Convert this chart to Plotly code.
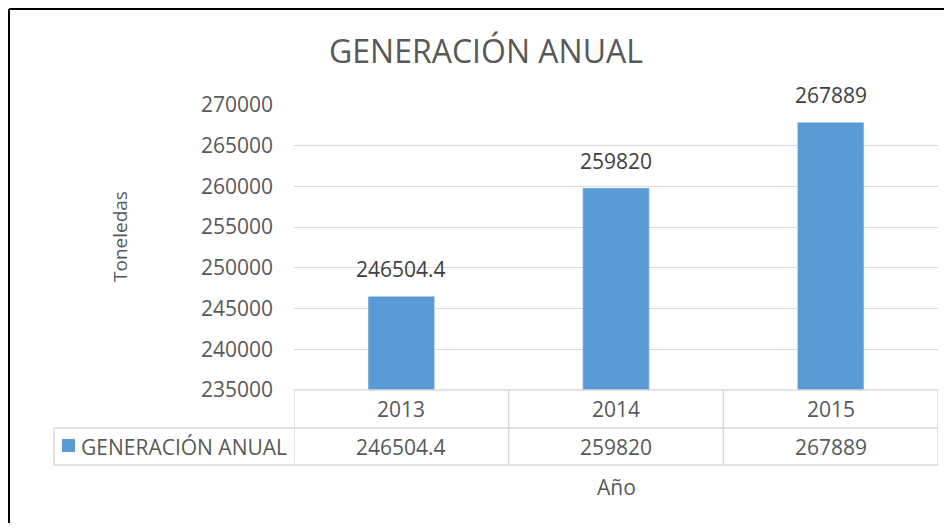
import plotly.graph_objects as go

years = ['2013', '2014', '2015']
generacion = [246504.4, 259820, 267889]
serie = 'GENERACIÓN ANUAL'
y_ticks = [235000, 240000, 245000, 250000, 255000, 260000, 265000, 270000]

bar_color = '#5B9BD5'
grid_color = '#D9D9D9'
text_color = '#595959'
value_color = '#404040'
font_family = 'Open Sans'
fs = 21

# the page body adds an 8px margin on every side, so the figure is kept
# 16px smaller than the window (no scrollbars) and figure px = screen px - 8
OFF = 8
W, H = 952 - 2 * OFF, 531 - 2 * OFF
L, T = 294 - OFF, 105 - OFF
R, B = W - (938 - OFF), H - (390 - OFF)
pw, ph = W - L - R, H - T - B


def px(x):
    # screen x -> paper x
    return (x - OFF - L) / pw


def py(y):
    # screen y -> paper y
    return (H - B - (y - OFF)) / ph


def fmt(v):
    return str(v) if v != int(v) else str(int(v))


fig = go.Figure()
fig.add_trace(go.Bar(
    x=years,
    y=generacion,
    name=serie,
    marker_color=bar_color,
    width=0.31,
    showlegend=False
))

annotations = []
# data labels above bars
for i, v in enumerate(generacion):
    annotations.append(dict(
        x=i, y=v, xref='x', yref='y', text=fmt(v), showarrow=False,
        yanchor='bottom', yshift=11, font=dict(size=fs, color=value_color)
    ))

# data table rows
row1_y = py(409)
row2_y = py(446.5)
for i, (yr, v) in enumerate(zip(years, generacion)):
    annotations.append(dict(
        x=i, y=row1_y, xref='x', yref='paper', text=yr, showarrow=False,
        yanchor='middle', font=dict(size=fs, color=text_color)
    ))
    annotations.append(dict(
        x=i, y=row2_y, xref='x', yref='paper', text=fmt(v), showarrow=False,
        yanchor='middle', font=dict(size=fs, color=text_color)
    ))
annotations.append(dict(
    x=px(79), y=row2_y, xref='paper', yref='paper', text=serie, showarrow=False,
    xanchor='left', yanchor='middle', font=dict(size=fs, color=text_color)
))
annotations.append(dict(
    x=px(616), y=py(487), xref='paper', yref='paper', text='Año', showarrow=False,
    xanchor='center', yanchor='middle', font=dict(size=fs, color=text_color)
))
annotations.append(dict(
    x=px(120), y=py(237), xref='paper', yref='paper', text='Toneledas', showarrow=False,
    textangle=-90, xanchor='center', yanchor='middle', font=dict(size=19, color=text_color)
))

line = dict(color=grid_color, width=1.5)
frame = dict(color='black', width=2)
shapes = [
    # horizontal table lines
    dict(type='line', xref='paper', yref='paper', x0=0, x1=1, y0=py(390), y1=py(390), line=line),
    dict(type='line', xref='paper', yref='paper', x0=px(54), x1=1, y0=py(428), y1=py(428), line=line),
    dict(type='line', xref='paper', yref='paper', x0=px(54), x1=1, y0=py(465), y1=py(465), line=line),
    dict(type='line', xref='paper', yref='paper', x0=px(54), x1=px(54), y0=py(428), y1=py(465), line=line),
    # legend key
    dict(type='rect', xref='paper', yref='paper', x0=px(62), x1=px(75), y0=py(452), y1=py(439),
         line=dict(width=0), fillcolor=bar_color),
    # outer frame: only the top and left edges are inside the window
    dict(type='line', xref='paper', yref='paper', x0=px(9), x1=px(1000), y0=py(9), y1=py(9), line=frame),
    dict(type='line', xref='paper', yref='paper', x0=px(9), x1=px(9), y0=py(9), y1=py(600), line=frame),
]
for k in range(len(years) + 1):
    shapes.append(dict(type='line', xref='x', yref='paper', x0=k - 0.5, x1=k - 0.5,
                       y0=py(390), y1=py(465), line=line))

fig.update_layout(
    width=W,
    height=H,
    margin=dict(l=L, r=R, t=T, b=B),
    paper_bgcolor='white',
    plot_bgcolor='white',
    font=dict(family=font_family, color=text_color, size=fs),
    title=dict(text='GENERACIÓN ANUAL', x=(486 - OFF) / W, xref='container', xanchor='center',
               y=1 - (52 - OFF) / H, yref='container', yanchor='middle',
               font=dict(size=32, color=text_color)),
    xaxis=dict(type='category', range=[-0.5, 2.5], showticklabels=False, showgrid=False,
               zeroline=False, showline=False, ticks=''),
    yaxis=dict(range=[235000, 270000], tickvals=y_ticks, tickformat='d', showgrid=True,
               gridcolor=grid_color, gridwidth=1, zeroline=False, showline=False,
               ticklabelstandoff=20, tickfont=dict(size=fs, color=text_color)),
    bargap=0.69,
    annotations=annotations,
    shapes=shapes,
    showlegend=False
)

fig.write_html('out.html')
